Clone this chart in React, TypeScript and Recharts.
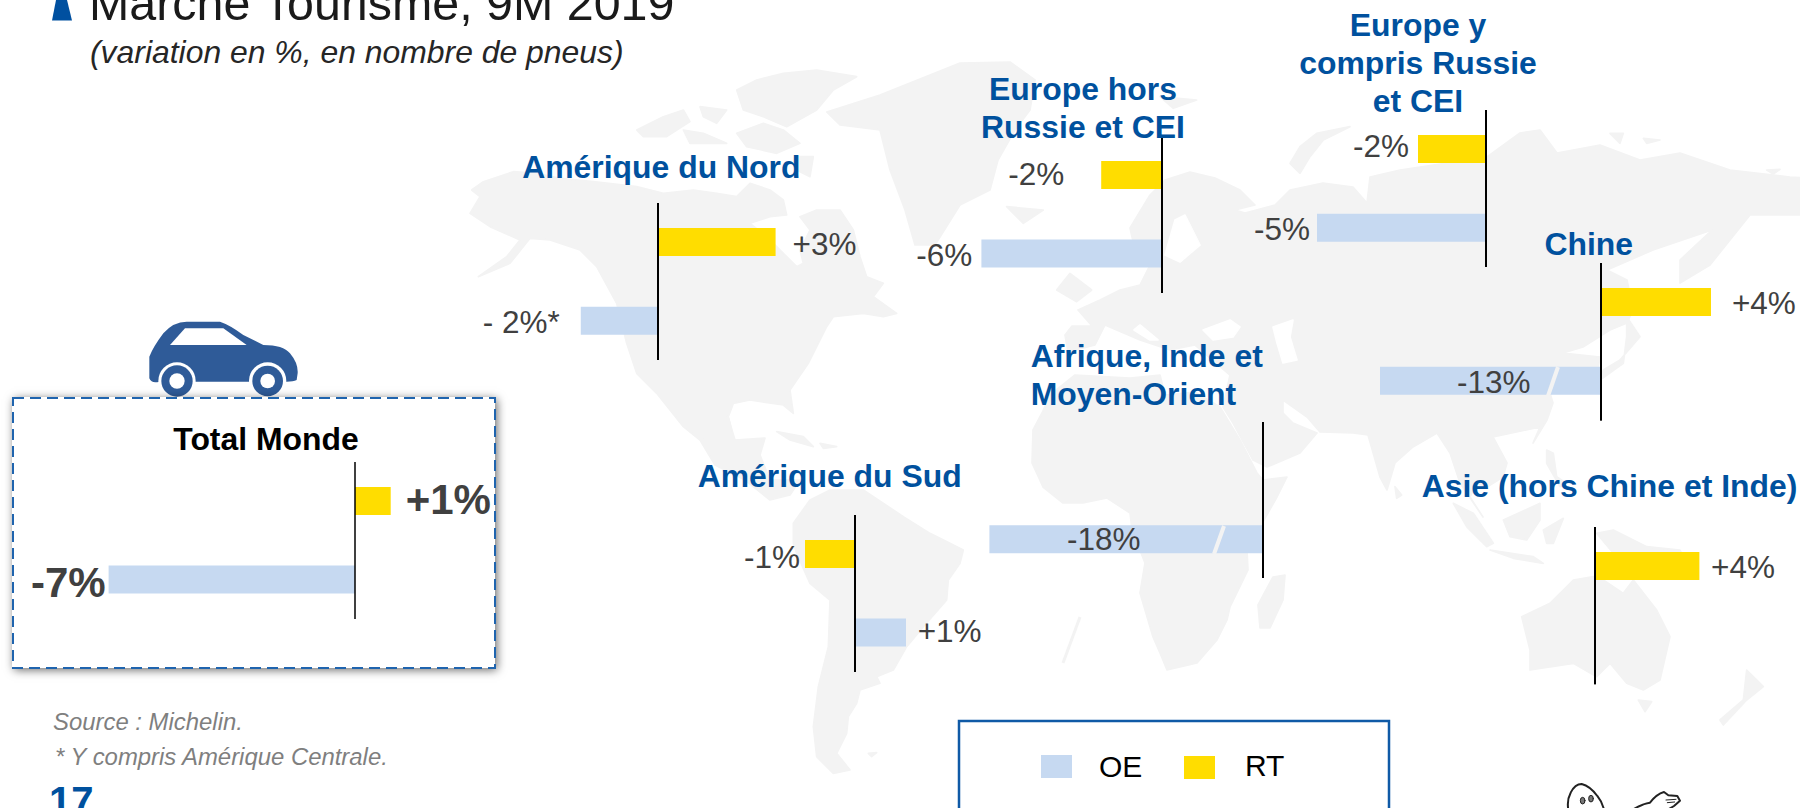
import React from "react";
import { BarChart, Bar, XAxis, YAxis, ReferenceLine, LabelList } from "recharts";

// ---- data -------------------------------------------------------------
const regionTitles = [
  ["Total Monde"],
  ["Amérique du Nord"],
  ["Europe hors", "Russie et CEI"],
  ["Europe y", "compris Russie", "et CEI"],
  ["Chine"],
  ["Amérique du Sud"],
  ["Afrique, Inde et", "Moyen-Orient"],
  ["Asie (hors Chine et Inde)"],
];
const rtValues = [1, 3, -2, -2, 4, -1, 0, 4];
const oeValues = [-7, -2, -6, -5, -13, 1, -18, 0];
const rtLabels = ["+1%", "+3%", "-2%", "-2%", "+4%", "-1%", "-0%", "+4%"];
const oeLabels = ["-7%", "- 2%*", "-6%", "-5%", "-13%", "+1%", "-18%", "-0%"];
const seriesNames = ["OE", "RT"];

// ---- layout (one entry per region) --------------------------------------
const FONT = "'Liberation Sans', Arial, sans-serif";
const BLUE = "#00519E";
const OE_COLOR = "#C6D9F1";
const RT_COLOR = "#FFDD00";
const MAP_COLOR = "#F3F3F3";
const NEG = 340;
const POS = 198;

const panels = [
  { axis: 355.3, top: 462, h: 157, rtS: 35.7, oeS: 35.2, rtL: [15, 12.5], oeL: [-3, 17], size: 42, bold: true, lw: 1.5,
    title: { x: 266, y: [450], anchor: "middle", color: "#000" } },
  { axis: 658.4, top: 202.7, h: 157.3, rtS: 39.2, oeS: 38.6, rtL: [17, 13], oeL: [-21, 12], lw: 2,
    title: { x: 661.3, y: [178], anchor: "middle" } },
  { axis: 1161.7, top: 135.7, h: 157, rtS: 30.4, oeS: 30.1, rtL: [-37, 10], oeL: [-9, 12], lw: 2,
    title: { x: 1083, y: [99.8, 137.8], anchor: "middle" } },
  { axis: 1486, top: 110, h: 157.3, rtS: 34, oeS: 33.8, rtL: [-9, 8.5], oeL: [-7, 12], lw: 2,
    title: { x: 1418, y: [35.5, 73.8, 112], anchor: "middle" } },
  { axis: 1601, top: 263.3, h: 157.7, rtS: 27.5, oeS: 17, rtL: [21, 12], oeL: [77, 12.5], lw: 2,
    title: { x: 1588.7, y: [254.5], anchor: "middle" } },
  { axis: 855, top: 515.3, h: 157, rtS: 50, oeS: 51, rtL: [-5, 13.7], oeL: [11.7, 9.7], lw: 2,
    title: { x: 961.7, y: [486.7], anchor: "end" } },
  { axis: 1263, top: 421.7, h: 156.6, rtS: 15.2, oeS: 15.2, rtL: [-22, 9], oeL: [77.7, 10.7], lw: 2,
    title: { x: 1030.7, y: [366.7, 405], anchor: "start" } },
  { axis: 1594.7, top: 527.3, h: 157.4, rtS: 26.1, oeS: 26.1, rtL: [11.7, 12], oeL: [-8.7, 12.5], lw: 2,
    title: { x: 1421.7, y: [496.7], anchor: "start" } },
];

// ---- world map background, traced as decoration ---------------------------
type Shape = [number, number, string];
const mapShapes: Shape[] = [
  // North America
  [450, 50, "65,420 100,395 190,365 260,370 330,385 430,395 560,410 640,430 730,420 800,430 860,440 900,400 960,420 1000,450 1010,495 960,500 900,520 950,560 1010,620 1040,650 1060,640 1050,600 1080,540 1050,500 1100,480 1170,480 1210,540 1230,620 1250,680 1300,700 1270,740 1340,790 1300,800 1240,790 1150,800 1130,830 1075,940 1020,1020 1030,1090 1000,1065 900,1050 850,1060 835,1100 850,1160 750,1170 700,1130 620,1030 560,970 530,880 500,760 440,650 390,600 300,570 240,565 180,640 85,680 170,620 210,570 120,530 60,490 90,440"],
  // Arctic islands
  [450, 50, "560,240 640,200 700,180 720,215 650,260 580,260"],
  [450, 50, "750,170 830,180 800,220 760,200"],
  [450, 50, "700,240 760,250 830,280 720,280"],
  [450, 50, "860,250 940,220 1000,240 1050,280 980,310 890,290"],
  [450, 50, "860,120 920,90 1000,70 1100,60 1220,80 1150,120 1100,180 1010,230 940,200 880,180"],
  [450, 50, "1040,320 1090,320 1080,380 1040,360"],
  // Greenland
  [450, 50, "1130,186 1290,135 1530,39 1680,36 1755,90 1740,180 1695,240 1644,330 1620,420 1530,465 1455,585 1395,585 1365,480 1320,360 1290,240 1170,225"],
  // Iceland, UK, Svalbard
  [960, 50, "140,470 250,480 190,520"],
  [960, 50, "290,720 330,670 395,720 350,755"],
  [960, 50, "600,140 710,150 640,175"],
  // Central America and Caribbean
  [730, 420, "-90,60 -6,-9 15,60 105,54 90,105 120,180 210,180 180,225 120,240 45,180 -45,135"],
  [730, 420, "140,35 220,50 250,80 180,60"],
  [730, 420, "270,70 320,80 280,85"],
  // South America
  [730, 420, "190,310 240,240 300,210 400,210 520,290 600,340 700,390 690,430 655,480 650,540 580,620 530,680 490,750 440,770 450,790 390,810 380,850 355,890 350,940 320,1000 360,1050 310,1060 260,1010 250,920 265,800 295,680 300,540 240,490 200,400 190,370"],
  [730, 420, "415,1000 440,998 425,1010"],
  // Eurasia
  [0, 0, "3204,1056 3195,1005 3216,978 3276,978 3234,930 3300,900 3360,870 3420,855 3450,795 3405,750 3390,684 3450,585 3495,540 3570,516 3645,534 3720,570 3765,615 3705,630 3735,639 3825,615 3870,570 3969,549 4059,561 4101,609 4110,531 4200,510 4461,471 4560,399 4620,390 4671,459 4800,435 4920,480 5040,459 5190,510 5370,531 5520,540 5661,570 5400,645 5250,645 5130,795 5040,849 5040,780 5136,690 4959,750 4821,810 4881,840 4899,930 4881,969 4830,990 4749,1041 4689,1059 4800,1071 4785,1155 4641,1149 4659,1209 4641,1260 4599,1329 4620,1281 4479,1311 4521,1389 4509,1431 4461,1461 4431,1449 4410,1491 4449,1551 4380,1449 4350,1359 4311,1299 4239,1341 4185,1389 4161,1470 4140,1431 4104,1305 4059,1299 3960,1296 3921,1251 3849,1200 3849,1239 3879,1269 3951,1299 3900,1359 3801,1401 3759,1380 3699,1269 3669,1221 3690,1125 3585,1035 3510,1050 3420,1020 3315,975 3285,1035"],
  // Novaya Zemlya, Siberian islands
  [1280, 50, "30,340 60,290 110,250 210,230 130,270 90,320 60,370"],
  [1280, 50, "990,250 1030,250 1020,280"],
  [1280, 50, "1090,265 1140,270 1100,280"],
  [1280, 50, "1460,360 1500,358 1480,372"],
  // Japan
  [1280, 50, "1040,800 1080,860 1020,930 970,960 960,990 1030,940 1040,860"],
  // Africa
  [0, 0, "3099,1290 3126,1239 3150,1185 3225,1125 3390,1134 3480,1125 3495,1185 3585,1176 3660,1221 3720,1320 3771,1419 3789,1440 3861,1431 3831,1491 3780,1581 3741,1650 3744,1710 3690,1821 3681,1860 3651,1920 3591,1989 3501,2010 3480,1959 3459,1911 3420,1779 3435,1689 3396,1590 3390,1539 3321,1494 3249,1509 3189,1509 3129,1461 3096,1389"],
  [0, 0, "3819,1731 3855,1725 3849,1800 3810,1884 3780,1884 3774,1815"],
  // Sri Lanka and Indonesia
  [1280, 420, "345,200 365,225 350,235"],
  [1280, 420, "520,250 580,280 640,370 620,380 560,320"],
  [1280, 420, "630,390 760,410 790,430 700,415"],
  [1280, 420, "670,300 780,250 780,300 740,360 690,350"],
  [1280, 420, "790,330 850,295 820,370 800,370"],
  [1280, 420, "800,90 820,100 830,170 860,190 840,200 800,130"],
  [1280, 420, "950,340 1000,330 1100,380 1200,390 1230,450 1100,430 1000,400"],
  // Australia, Tasmania, New Zealand
  [1280, 420, "725,590 810,550 880,480 940,470 970,480 1030,520 1060,480 1130,570 1170,650 1140,780 1090,810 1040,790 990,730 950,770 880,730 750,750 750,690"],
  [1280, 420, "1075,840 1115,845 1095,875"],
  [1280, 420, "1400,750 1450,800 1400,840 1330,915 1320,900 1390,840"],
];
const mapHoles: Shape[] = [
  [0, 0, "3609,990 3690,960 3720,981 3699,1011 3639,1020"], // Black Sea
  [0, 0, "3819,981 3879,960 3870,1011 3891,1080 3849,1089 3831,1029"], // Caspian
  [0, 0, "3525,660 3555,645 3600,735 3540,786 3495,765"], // Baltic
  [0, 0, "3420,975 3474,1020 3450,1020 3402,990"], // Adriatic
];

function Poly({ s, fill }: { s: Shape; fill: string }) {
  return (
    <polygon
      transform={`translate(${s[0]} ${s[1]}) scale(${1 / 3})`}
      points={s[2]}
      fill={fill}
      stroke={fill}
      strokeWidth={5}
      strokeLinejoin="round"
    />
  );
}

function MapLayer() {
  return (
    <svg width={1800} height={808} style={{ position: "absolute", left: 0, top: 0 }}>
      {mapShapes.map((s, i) => <Poly key={i} s={s} fill={MAP_COLOR} />)}
      {mapHoles.map((s, i) => <Poly key={i} s={s} fill="#FFFFFF" />)}
      <line x1={1080} y1={617} x2={1063} y2={663} stroke={MAP_COLOR} strokeWidth={3} />
      {/* car */}
      <g transform="translate(130 310) scale(0.3333)" fill="#2F5B98">
        <path d="M58,140 Q70,110 100,70 Q130,35 170,35 L270,35 Q300,45 340,75 L400,105 Q460,105 480,130 Q505,160 503,190 L500,210 Q490,215 470,215 L355,215 L200,215 L88,215 Q65,222 58,205 Z" />
        <path d="M120,105 L165,55 L280,55 L350,105 Z" fill="#fff" />
        <circle cx={141} cy={213} r={56} fill="#fff" />
        <circle cx={413} cy={213} r={56} fill="#fff" />
        <circle cx={141} cy={213} r={47} />
        <circle cx={413} cy={213} r={46} />
        <circle cx={141} cy={213} r={23} fill="#fff" />
        <circle cx={413} cy={213} r={22} fill="#fff" />
      </g>
    </svg>
  );
}

function ValueLabel(props: any) {
  const { x, y, width, height, value, offset, size, bold } = props;
  if (value === undefined || value === null || value === "") return null;
  const [dx, dy] = offset as number[];
  const left = Math.min(x, x + width);
  const right = Math.max(x, x + width);
  const base = dx > 0 && !props.negative ? right : left;
  return (
    <text
      x={base + dx}
      y={y + height / 2 + dy}
      textAnchor={dx > 0 ? "start" : "end"}
      fontFamily={FONT}
      fontSize={size}
      fontWeight={bold ? 700 : 400}
      fill="#404040"
    >
      {value}
    </text>
  );
}

function Panel({ index }: { index: number }) {
  const p = panels[index] as any;
  const rows = [
    { name: "RT", rt: rtValues[index], rtLabel: rtLabels[index] },
    { name: "OE", oe: oeValues[index], oeLabel: oeLabels[index] },
  ];
  const size = p.size ?? 31.5;
  const bold = !!p.bold;
  const rtNeg = rtValues[index] <= 0;
  const oeNeg = oeValues[index] <= 0;
  return (
    <div style={{ position: "absolute", left: p.axis - NEG, top: p.top, width: NEG + POS, height: p.h }}>
      <BarChart
        width={NEG + POS}
        height={p.h}
        data={rows}
        layout="vertical"
        barGap={-28}
        margin={{ top: 0, right: 0, bottom: 0, left: 0 }}
        style={{ overflow: "visible" }}
      >
        <XAxis xAxisId="rt" type="number" hide allowDataOverflow domain={[-NEG / p.rtS, POS / p.rtS]} />
        <XAxis xAxisId="oe" type="number" hide allowDataOverflow domain={[-NEG / p.oeS, POS / p.oeS]} />
        <YAxis type="category" dataKey="name" hide width={0} />
        <Bar xAxisId="oe" dataKey="oe" name="OE" fill={OE_COLOR} barSize={28} isAnimationActive={false}>
          <LabelList
            dataKey="oeLabel"
            content={(lp: any) => <ValueLabel {...lp} offset={p.oeL} size={size} bold={bold} negative={oeNeg} />}
          />
        </Bar>
        <Bar xAxisId="rt" dataKey="rt" name="RT" fill={RT_COLOR} barSize={28} isAnimationActive={false}>
          <LabelList
            dataKey="rtLabel"
            content={(lp: any) => <ValueLabel {...lp} offset={p.rtL} size={size} bold={bold} negative={rtNeg} />}
          />
        </Bar>
        <ReferenceLine xAxisId="oe" x={0} stroke="#000" strokeWidth={p.lw} />
      </BarChart>
    </div>
  );
}

function Overlay() {
  return (
    <svg width={1800} height={808} style={{ position: "absolute", left: 0, top: 0, pointerEvents: "none" }} fontFamily={FONT}>
      {/* header */}
      <polygon points="56,0 67,0 72,20.5 52,20.5" fill="#0050A0" />
      <text x={89} y={20} fontSize={48.4} fill="#1A1A1A">Marché Tourisme, 9M 2019</text>
      <text x={90} y={63} fontSize={31.9} fontStyle="italic" fill="#262626">(variation en %, en nombre de pneus)</text>
      {/* Total Monde dashed frame */}
      <rect x={13} y={398} width={482} height={270} fill="none" stroke="#1F64AE" strokeWidth={2} strokeDasharray="11 6" />
      {/* region titles */}
      {regionTitles.map((lines, i) => {
        const t = panels[i].title as any;
        return lines.map((line, j) => (
          <text key={`${i}-${j}`} x={t.x} y={t.y[j]} textAnchor={t.anchor} fontSize={31.9} fontWeight={700} fill={t.color ?? BLUE}>
            {line}
          </text>
        ));
      })}
      {/* axis-break marks */}
      <line x1={1224} y1={526} x2={1214} y2={554} stroke={MAP_COLOR} strokeWidth={4} />
      <line x1={1558} y1={367} x2={1548} y2={396} stroke={MAP_COLOR} strokeWidth={4} />
      {/* notes */}
      <text x={53} y={730} fontSize={23.9} fontStyle="italic" fill="#7F7F7F">Source : Michelin.</text>
      <text x={55} y={765} fontSize={23.9} fontStyle="italic" fill="#7F7F7F">* Y compris Amérique Centrale.</text>
      <text x={49} y={815} fontSize={40} fontWeight={700} fill={BLUE}>17</text>
      {/* legend */}
      <polyline points="959,808 959,721 1389,721 1389,808" fill="none" stroke="#0F5AA6" strokeWidth={2.5} />
      <rect x={1041} y={755} width={31} height={23} fill={OE_COLOR} />
      <text x={1099} y={776.7} fontSize={30} fill="#000">{seriesNames[0]}</text>
      <rect x={1184} y={756} width={31} height={23} fill={RT_COLOR} />
      <text x={1245} y={775.7} fontSize={30} fill="#000">{seriesNames[1]}</text>
      {/* mascot, cropped by the page edge */}
      <g transform="translate(1540 770) scale(0.3333)" fill="none" stroke="#222" strokeWidth={6} strokeLinecap="round" strokeLinejoin="round">
        <path d="M85,120 Q80,90 92,68 Q105,42 125,42 Q150,48 172,78 Q188,98 192,120" />
        <ellipse cx={128} cy={92} rx={7} ry={10} fill="#777" stroke="#222" strokeWidth={3} />
        <ellipse cx={153} cy={86} rx={7} ry={10} fill="#777" stroke="#222" strokeWidth={3} />
        <path d="M280,118 Q310,100 330,98 Q350,72 372,66 L385,76 L412,78 L420,92 L402,108 L385,118" />
        <path d="M378,90 L408,88 M382,98 L404,96" strokeWidth={3} />
      </g>
    </svg>
  );
}

export default function App() {
  return (
    <div style={{ position: "absolute", left: 0, top: 0, width: 1800, height: 808, overflow: "hidden", background: "#fff" }}>
      <MapLayer />
      {/* Total Monde box */}
      <div
        style={{
          position: "absolute",
          left: 12,
          top: 397,
          width: 483,
          height: 271,
          boxSizing: "border-box",
          background: "#fff",
          boxShadow: "2px 2px 9px rgba(0,0,0,0.6)",
        }}
      />
      {panels.map((_, i) => <Panel key={i} index={i} />)}
      <Overlay />
    </div>
  );
}
